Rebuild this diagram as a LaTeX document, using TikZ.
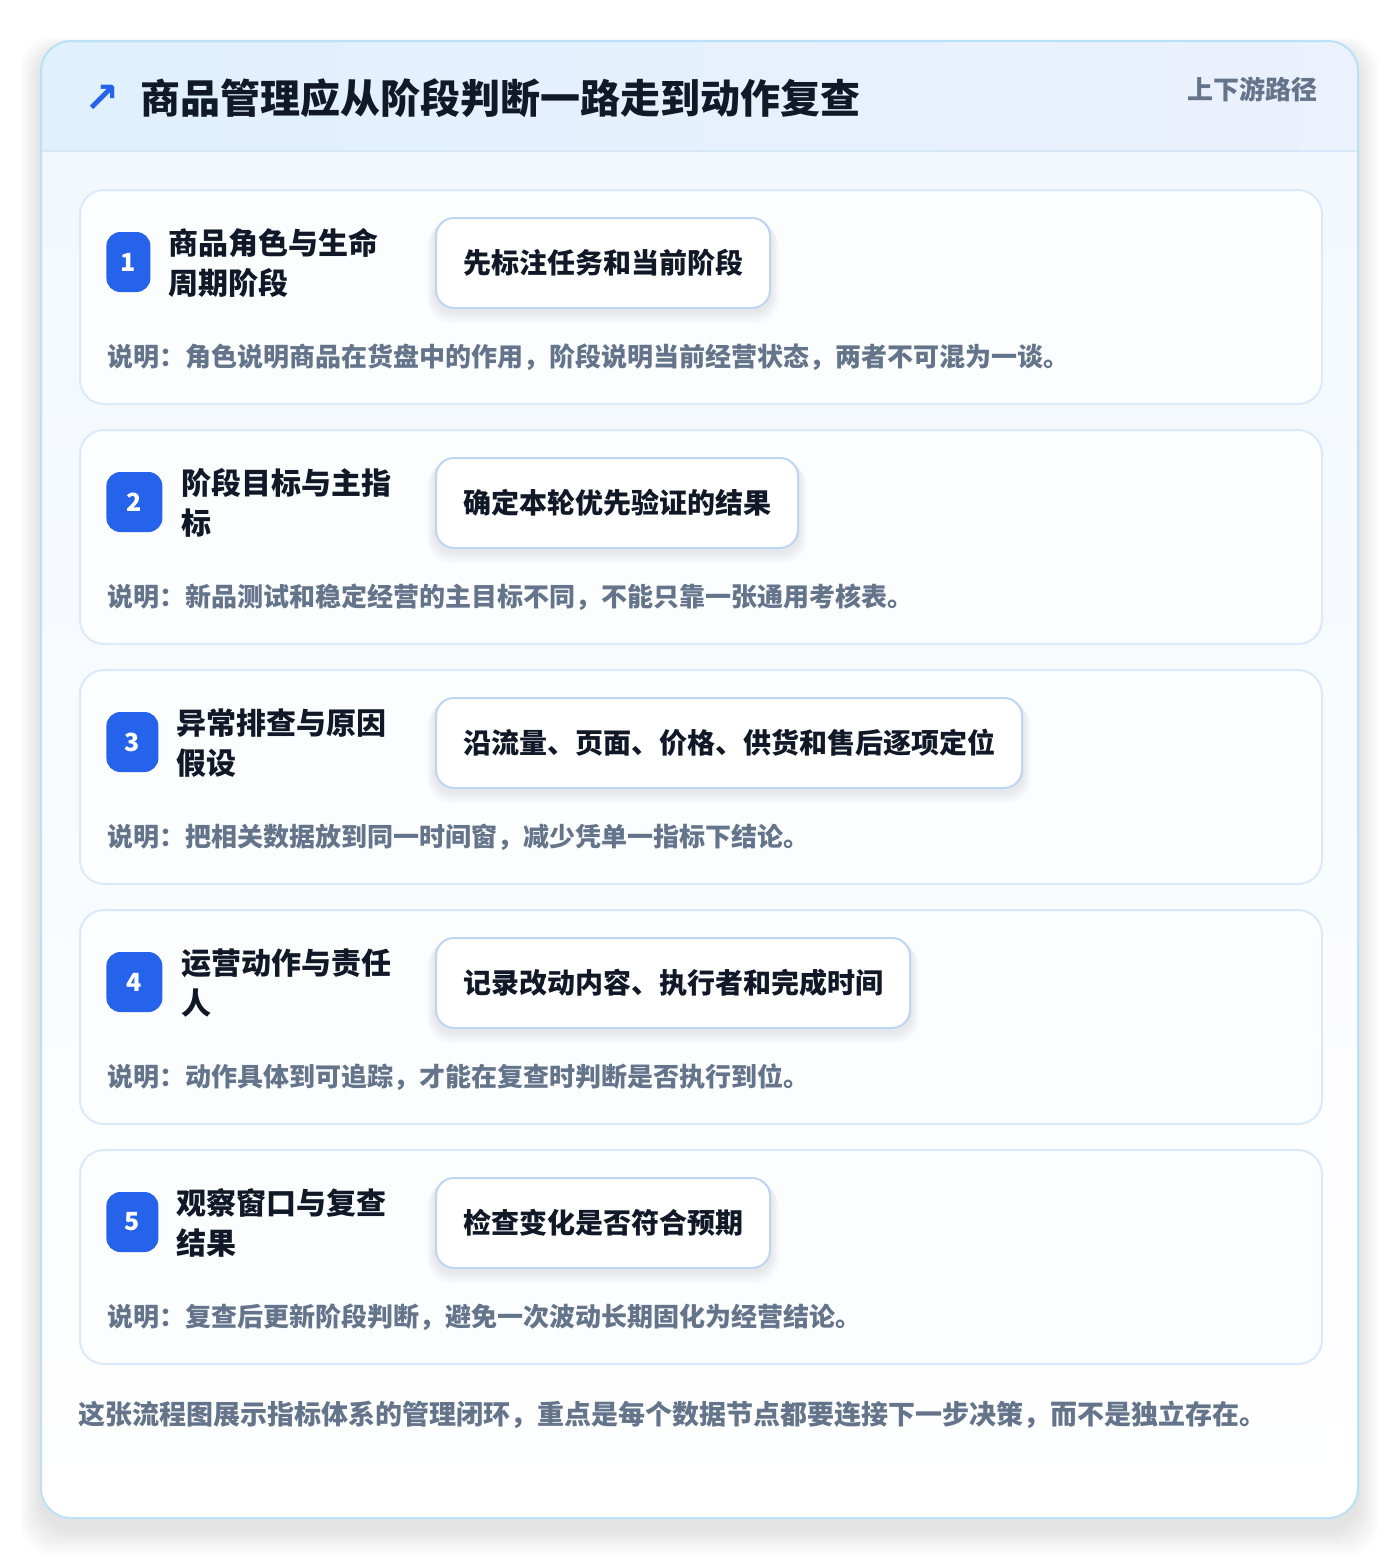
\documentclass[tikz,border=0pt]{standalone}
\usepackage{fontspec}
\setmainfont{Noto Sans CJK SC}
\newfontfamily\symbfont{DejaVu Sans}
\usetikzlibrary{positioning}

\definecolor{ink}{HTML}{111827}
\definecolor{mute}{HTML}{64748B}
\definecolor{badgeblue}{HTML}{2563EB}
\definecolor{frameline}{HTML}{BAE1F7}
\definecolor{cardline}{HTML}{DAEAFB}
\definecolor{stepline}{HTML}{BED6F4}
\definecolor{headA}{HTML}{E0F0FD}
\definecolor{headB}{HTML}{EBF1FD}
\definecolor{headline}{HTML}{D6E8F8}
\definecolor{bodyA}{HTML}{F2F8FE}
\definecolor{cardfill}{HTML}{FBFDFF}

\pgfdeclarelayer{back}
\pgfdeclarelayer{mid}
\pgfdeclarelayer{shade}
\pgfsetlayers{back,mid,shade,main}

\tikzset{
  card/.style={draw=cardline, line width=1pt, fill=cardfill, rounded corners=12pt,
    minimum width=621pt, minimum height=107pt, anchor=north west, inner sep=0},
  badge/.style={fill=badgeblue, rounded corners=7pt, minimum height=30pt,
    inner sep=0, anchor=west, text=white, font=\bfseries\fontsize{12.5}{12.5}\selectfont},
  cardtitle/.style={anchor=west, inner sep=0, align=left, text=ink,
    font=\bfseries\fontsize{15}{20}\selectfont},
  stepbox/.style={draw=stepline, line width=1pt, fill=white, rounded corners=9pt,
    minimum height=45pt, inner xsep=13.5pt, inner ysep=0, anchor=north west,
    text=ink, font=\bfseries\fontsize{14}{14}\selectfont},
  note/.style={anchor=west, inner sep=0, text=mute, font=\bfseries\fontsize{13}{13}\selectfont}
}

\begin{document}
\begin{tikzpicture}[x=0.5pt,y=-0.5pt]
\useasboundingbox (0,0) rectangle (1400,1560);

\begin{pgfonlayer}{back}
\fill[white] (0,0) rectangle (1400,1560);
% soft shadow of the frame
\foreach \k in {1,...,14}
  {
  \fill[black, opacity=0.007, rounded corners=16pt]
    (41-\k*1.5,41-\k+10) rectangle (1358+\k*1.5,1518+\k*2+10);
  }
% frame: header band and body
\begin{scope}
  \clip[rounded corners=15pt] (41,41) rectangle (1358,1518);
  \shade[left color=headA, right color=headB] (41,41) rectangle (1358,151);
  \shade[top color=bodyA, bottom color=white] (41,151) rectangle (1358,1518);
  \draw[headline, line width=1pt] (41,151) -- (1358,151);
\end{scope}
\draw[frameline, line width=1pt, rounded corners=15pt] (41,41) rectangle (1358,1518);
\end{pgfonlayer}

\node[text=badgeblue, inner sep=0, font=\symbfont\bfseries\fontsize{21}{21}\selectfont] (icon) at (102,99) {↗};
\node[anchor=west, inner sep=0, text=ink, font=\bfseries\fontsize{20}{24}\selectfont] (head) at (140,98)
  {商品管理应从阶段判断一路走到动作复查};
\node[anchor=east, inner sep=0, text=mute, font=\bfseries\fontsize{13}{13}\selectfont] (tag) at (1318,89)
  {上下游路径};

% the five steps
\foreach \i/\bw/\tx/\ttl/\act/\txt in {
  1/44/168/{商品角色与生命\\周期阶段}/{先标注任务和当前阶段}/{说明：角色说明商品在货盘中的作用，阶段说明当前经营状态，两者不可混为一谈。},
  2/56/181/{阶段目标与主指\\标}/{确定本轮优先验证的结果}/{说明：新品测试和稳定经营的主目标不同，不能只靠一张通用考核表。},
  3/52/176/{异常排查与原因\\假设}/{沿流量、页面、价格、供货和售后逐项定位}/{说明：把相关数据放到同一时间窗，减少凭单一指标下结论。},
  4/56/181/{运营动作与责任\\人}/{记录改动内容、执行者和完成时间}/{说明：动作具体到可追踪，才能在复查时判断是否执行到位。},
  5/52/176/{观察窗口与复查\\结果}/{检查变化是否符合预期}/{说明：复查后更新阶段判断，避免一次波动长期固化为经营结论。}}
  {
  \pgfmathsetmacro{\T}{189+240*(\i-1)}
  \begin{pgfonlayer}{mid}
    \node[card] (card\i) at (79,\T) {};
  \end{pgfonlayer}
  \node[badge, minimum width=\bw*0.5pt] (badge\i) at (106,\T+73) {\i};
  \node[cardtitle] (title\i) at (\tx,\T+74) {\ttl};
  \node[stepbox] (act\i) at (435,\T+28) {\act};
  % shadow under the action box
  \begin{pgfonlayer}{shade}
    \foreach \k in {1,...,7}
      {
      \fill[black, opacity=0.01, rounded corners=9pt+\k*0.5pt]
        ([xshift=-\k*0.6pt, yshift=-\k*0.4pt]act\i.north west)
        rectangle ([xshift=\k*0.6pt, yshift=-\k*0.9pt-1pt]act\i.south east);
      }
  \end{pgfonlayer}
  \node[note] (note\i) at (107,\T+168) {\txt};
  }

\node[anchor=west, inner sep=0, text=mute, font=\bfseries\fontsize{13.5}{13.5}\selectfont] (foot) at (78,1415)
  {这张流程图展示指标体系的管理闭环，重点是每个数据节点都要连接下一步决策，而不是独立存在。};
\end{tikzpicture}
\end{document}
